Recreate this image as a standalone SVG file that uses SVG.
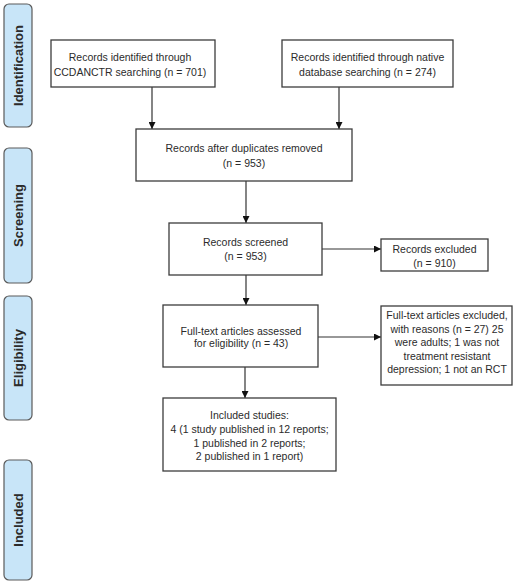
<svg xmlns="http://www.w3.org/2000/svg" width="519" height="588" viewBox="0 0 519 588">
<style>
.bar{fill:#c8e5f8;stroke:#5a5a5a;stroke-width:1.2}
.bl{font-family:"Liberation Sans",Arial,sans-serif;font-weight:bold;font-size:13px;fill:#2b2b2b;text-anchor:middle}
.box{fill:#fff;stroke:#3c3c3c;stroke-width:1.3}
.t{font-family:"Liberation Sans",Arial,sans-serif;font-size:10.5px;fill:#2b2b2b;text-anchor:middle}
.c{stroke:#333;stroke-width:1.2;fill:none;marker-end:url(#ah)}
</style>
<defs>
<marker id="ah" markerWidth="7" markerHeight="7" refX="7" refY="3.5" orient="auto" markerUnits="userSpaceOnUse">
<path d="M0,0 L7,3.5 L0,7 Z" fill="#111"/>
</marker>
</defs>
<rect width="519" height="588" fill="#fff"/>
<g id="phase-identification"><rect class="bar" x="4" y="4" width="28" height="123" rx="5"/><text class="bl" transform="translate(23,65.5) rotate(-90)">Identification</text></g>
<g id="phase-screening"><rect class="bar" x="4" y="148" width="28" height="135" rx="5"/><text class="bl" transform="translate(23,215.5) rotate(-90)">Screening</text></g>
<g id="phase-eligibility"><rect class="bar" x="4" y="296" width="28" height="124" rx="5"/><text class="bl" transform="translate(23,358) rotate(-90)">Eligibility</text></g>
<g id="phase-included"><rect class="bar" x="4" y="460" width="28" height="120" rx="5"/><text class="bl" transform="translate(23,520) rotate(-90)">Included</text></g>
<g id="connectors">
<line class="c" x1="152" y1="87" x2="152" y2="129"/>
<line class="c" x1="339" y1="87" x2="339" y2="129"/>
<line class="c" x1="246" y1="181" x2="246" y2="223"/>
<line class="c" x1="322" y1="249" x2="381" y2="249"/>
<line class="c" x1="246" y1="275" x2="246" y2="305"/>
<line class="c" x1="318" y1="337" x2="381" y2="337"/>
<line class="c" x1="245" y1="367" x2="245" y2="398"/>
</g>
<g id="ccdanctr"><rect class="box" x="51" y="40" width="164" height="47"/><text class="t" x="130" y="61">Records identified through</text><text class="t" x="130" y="75.5">CCDANCTR searching (n = 701)</text></g>
<g id="native"><rect class="box" x="282" y="40" width="171" height="47"/><text class="t" x="367.5" y="61">Records identified through native</text><text class="t" x="367.5" y="75.5">database searching (n = 274)</text></g>
<g id="duplicates"><rect class="box" x="136" y="129" width="216" height="52"/><text class="t" x="244" y="152">Records after duplicates removed</text><text class="t" x="244" y="166.5">(n = 953)</text></g>
<g id="screened"><rect class="box" x="169" y="223" width="153" height="52"/><text class="t" x="245.5" y="246">Records screened</text><text class="t" x="245.5" y="259.5">(n = 953)</text></g>
<g id="excluded"><rect class="box" x="381" y="239" width="107" height="32"/><text class="t" x="434.5" y="252.5">Records excluded</text><text class="t" x="434.5" y="266.5">(n = 910)</text></g>
<g id="fulltext"><rect class="box" x="163" y="305" width="155" height="62"/><text class="t" x="241" y="334.5">Full-text articles assessed</text><text class="t" x="241" y="347">for eligibility (n = 43)</text></g>
<g id="ft-excluded"><rect class="box" x="381" y="306" width="131" height="79"/><text class="t" x="447" y="319">Full-text articles excluded,</text><text class="t" x="447" y="332.5">with reasons (n = 27) 25</text><text class="t" x="447" y="346">were adults; 1 was not</text><text class="t" x="447" y="359.5">treatment resistant</text><text class="t" x="447" y="373">depression; 1 not an RCT</text></g>
<g id="included"><rect class="box" x="163" y="398" width="173" height="73"/><text class="t" x="249.5" y="419">Included studies:</text><text class="t" x="249.5" y="433">4 (1 study published in 12 reports;</text><text class="t" x="249.5" y="446.5">1 published in 2 reports;</text><text class="t" x="249.5" y="460">2 published in 1 report)</text></g>
</svg>
